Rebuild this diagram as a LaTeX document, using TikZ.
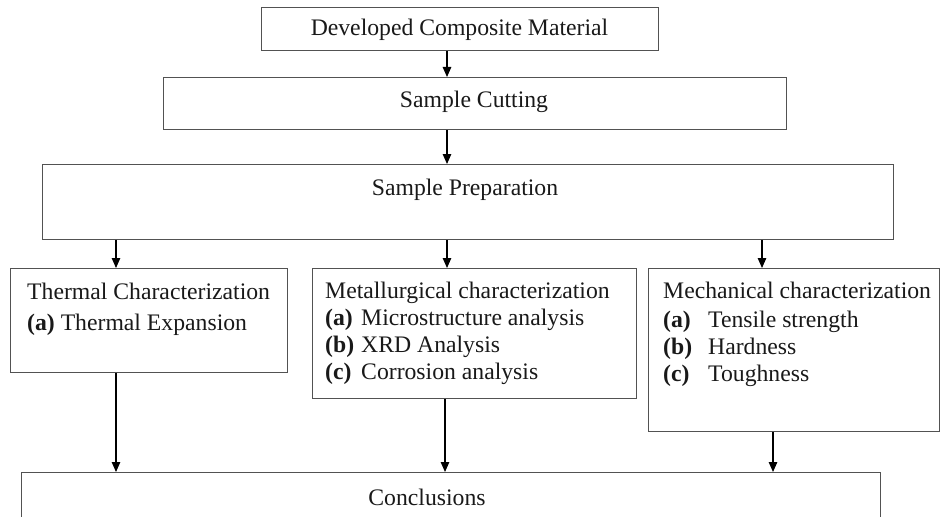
\documentclass[tikz,border=0pt]{standalone}
\usepackage{fontspec}
\setmainfont{Liberation Serif}
\usetikzlibrary{arrows.meta}
\begin{document}
\begin{tikzpicture}[x=1pt,y=-1pt,
  box/.style={draw=black!68, line width=1.4pt, inner sep=0pt, anchor=north west},
  lbl/.style={inner sep=0pt, text=black!90, font=\fontsize{23.7}{27}\selectfont},
  arr/.style={draw=black, line width=1.1pt, -{Triangle[length=10pt,width=8.5pt]}}]
\useasboundingbox (0,0) rectangle (941,516);
\clip (0,0) rectangle (941,516);
% boxes
\node[box, minimum width=397pt, minimum height=43pt] (b1) at (261,7) {};
\node[box, minimum width=623pt, minimum height=52pt] (b2) at (163,77) {};
\node[box, minimum width=851pt, minimum height=75pt] (b3) at (42,164) {};
\node[box, minimum width=277pt, minimum height=104pt] (b4) at (10,268) {};
\node[box, minimum width=324pt, minimum height=130pt] (b5) at (312,268) {};
\node[box, minimum width=291pt, minimum height=163pt] (b6) at (648,268) {};
\node[box, minimum width=859pt, minimum height=70pt] (b7) at (21,472) {};
% texts
\node[lbl] (t1) at (459.5,30) {Developed Composite Material};
\node[lbl] (t2) at (474,102) {Sample Cutting};
\node[lbl] (t3) at (465,190) {Sample Preparation};
\node[lbl] (t7) at (427,497) {Conclusions};
\node[lbl, anchor=base west] (t4a) at (27,299) {Thermal Characterization};
\node[lbl, anchor=base west] (t4b) at (27,330) {\textbf{(a)} Thermal Expansion};
\node[lbl, anchor=base west] (t5a) at (325,298) {Metallurgical characterization};
\node[lbl, anchor=base west] (t5b) at (325,325) {\makebox[36pt][l]{\textbf{(a)}}Microstructure analysis};
\node[lbl, anchor=base west] (t5c) at (325,352) {\makebox[36pt][l]{\textbf{(b)}}XRD Analysis};
\node[lbl, anchor=base west] (t5d) at (325,379) {\makebox[36pt][l]{\textbf{(c)}}Corrosion analysis};
\node[lbl, anchor=base west] (t6a) at (663,298) {Mechanical characterization};
\node[lbl, anchor=base west] (t6b) at (663,327) {\makebox[45pt][l]{\textbf{(a)}}Tensile strength};
\node[lbl, anchor=base west] (t6c) at (663,354) {\makebox[45pt][l]{\textbf{(b)}}Hardness};
\node[lbl, anchor=base west] (t6d) at (663,381) {\makebox[45pt][l]{\textbf{(c)}}Toughness};
% connector x positions
\coordinate (xL) at (116,0);
\coordinate (xM) at (447,0);
\coordinate (xR) at (762,0);
\coordinate (xM2) at (445,0);
\coordinate (xR2) at (773,0);
% connectors
\draw[arr] (b1.south -| xM) -- (b2.north -| xM);
\draw[arr] (b2.south -| xM) -- (b3.north -| xM);
\draw[arr] (b3.south -| xL) -- (b4.north -| xL);
\draw[arr] (b3.south -| xM) -- (b5.north -| xM);
\draw[arr] (b3.south -| xR) -- (b6.north -| xR);
\draw[arr] (b4.south -| xL) -- (b7.north -| xL);
\draw[arr] (b5.south -| xM2) -- (b7.north -| xM2);
\draw[arr] (b6.south -| xR2) -- (b7.north -| xR2);
\end{tikzpicture}
\end{document}
